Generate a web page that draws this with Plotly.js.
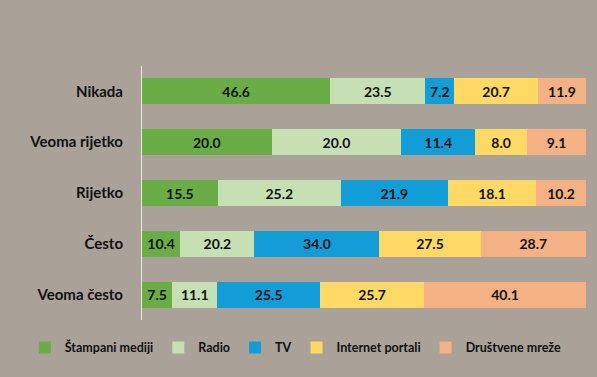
<!DOCTYPE html>
<html>
<head>
<meta charset="utf-8">
<script src="https://cdn.plot.ly/plotly-3.0.1.min.js"></script>
<style>html,body{margin:0;padding:0;background:#aaa198;}</style>
</head>
<body>
<div id="chart" style="width:597px;height:377px;"></div>
<script>
const categories = ["Nikada", "Veoma rijetko", "Rijetko", "Često", "Veoma često"];
const seriesNames = ["Štampani mediji", "Radio", "TV", "Internet portali", "Društvene mreže"];
const stampani = [46.6, 20.0, 15.5, 10.4, 7.5];
const radio = [23.5, 20.0, 25.2, 20.2, 11.1];
const tv = [7.2, 11.4, 21.9, 34.0, 25.5];
const internet = [20.7, 8.0, 18.1, 27.5, 25.7];
const drustvene = [11.9, 9.1, 10.2, 28.7, 40.1];
const colors = ["#6aad46", "#c6e0b4", "#139dd6", "#ffd966", "#f4b183"];

const allValues = [stampani, radio, tv, internet, drustvene];
const fontFam = "Lato, 'Open Sans', sans-serif";
const traces = allValues.map((vals, i) => ({
  type: "bar",
  orientation: "h",
  name: seriesNames[i],
  x: vals,
  y: categories,
  text: vals,
  marker: {color: colors[i], line: {width: 0}},
  texttemplate: "%{text:.1f}",
  textposition: "inside",
  insidetextanchor: "middle",
  constraintext: "none",
  textfont: {family: fontFam, size: 14, color: "#111", weight: "bold"},
  hoverinfo: "skip"
}));

const layout = {
  width: 597,
  height: 377,
  barmode: "stack",
  barnorm: "percent",
  bargap: 0.49,
  paper_bgcolor: "#aaa198",
  plot_bgcolor: "#aaa198",
  margin: {l: 142, r: 11, t: 66, b: 57},
  showlegend: true,
  legend: {
    orientation: "h",
    xref: "paper",
    yref: "paper",
    x: -0.264,
    xanchor: "left",
    y: -0.11,
    yanchor: "middle",
    font: {family: fontFam, size: 12.5, color: "#111", weight: "bold"},
    traceorder: "normal",
    itemwidth: 30,
    bgcolor: "rgba(0,0,0,0)"
  },
  xaxis: {
    range: [0, 100],
    showgrid: false,
    zeroline: false,
    showticklabels: false,
    showline: false,
    fixedrange: true
  },
  yaxis: {
    categoryorder: "array",
    categoryarray: categories,
    autorange: "reversed",
    showgrid: false,
    zeroline: false,
    showline: true,
    linecolor: "#ebe7e2",
    linewidth: 1,
    ticks: "outside",
    ticklen: 15,
    tickcolor: "rgba(0,0,0,0)",
    tickfont: {family: fontFam, size: 15, color: "#111", weight: "bold"}
  }
};

Plotly.newPlot("chart", traces, layout, {displayModeBar: false, staticPlot: true});
</script>
</body>
</html>
